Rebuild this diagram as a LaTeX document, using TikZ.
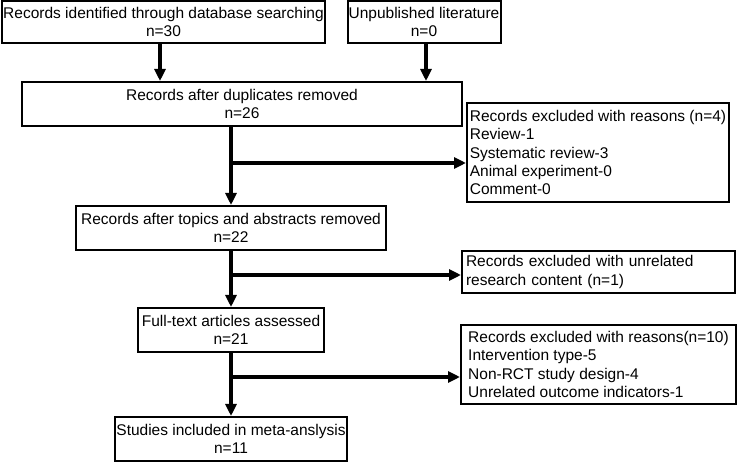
\documentclass[tikz,border=0pt]{standalone}
\usepackage{fontspec}
\setmainfont{Liberation Sans}
\usetikzlibrary{arrows.meta}

\tikzset{
	box/.style={draw, line width=2pt, minimum height=44pt, align=center, inner sep=0pt},
	exbox/.style={draw, line width=2pt, align=left, inner sep=0pt},
	arr/.style={line width=3.2pt, -{Triangle[length=12pt,width=11pt]}}
}

\begin{document}
\fontsize{15.5}{18.3}\selectfont
\begin{tikzpicture}[x=1pt,y=-1pt]
\useasboundingbox (0,0) rectangle (737,462);

% main column
\node[box, minimum width=323pt, minimum height=42pt] (rec) at (163.5,22) {Records identified through database searching\\n=30};
\node[box, minimum width=153pt, minimum height=42pt] (unp) at (424,22) {Unpublished literature\\n=0};
\node[box, minimum width=440pt] (dup) at (242,104) {Records after duplicates removed\\n=26};
\node[box, minimum width=310pt] (top) at (231,228) {Records after topics and abstracts removed\\n=22};
\node[box, minimum width=186pt] (full) at (231,330) {Full-text articles assessed\\n=21};
\node[box, minimum width=232pt] (incl) at (231,439) {Studies included in meta-anslysis\\n=11};

% exclusions
\node[exbox, minimum width=262pt, minimum height=99pt] (ex1) at (598,152.5) {Records excluded with reasons (n=4)\\Review-1\\Systematic review-3\\Animal experiment-0\\Comment-0};
\node[exbox, text width=265pt, inner xsep=4pt, minimum height=42pt] (ex2) at (598.5,272) {Records excluded with unrelated\\research content (n=1)};
\node[exbox, minimum width=275pt, minimum height=79pt] (ex3) at (598.5,364.5) {Records excluded with reasons(n=10)\\Intervention type-5\\Non-RCT study design-4\\Unrelated outcome indicators-1};

\coordinate (b1) at (231,163);
\coordinate (b2) at (231,275);
\coordinate (b3) at (231,377);

\draw[arr] (rec.south -| 160,0) -- (dup.north -| 160,0);
\draw[arr] (unp.south -| 426,0) -- (dup.north -| 426,0);
\draw[arr] (dup.south -| top.north) -- (top.north);
\draw[arr] (top) -- (full);
\draw[arr] (full) -- (incl);
%\draw (dup.south) -- (top.north);
\draw[arr] (b1) -- (b1 -| ex1.west);
\draw[arr] (b2) -- (b2 -| ex2.west);
\draw[arr] (b3) -- (b3 -| ex3.west);
\end{tikzpicture}
\end{document}
